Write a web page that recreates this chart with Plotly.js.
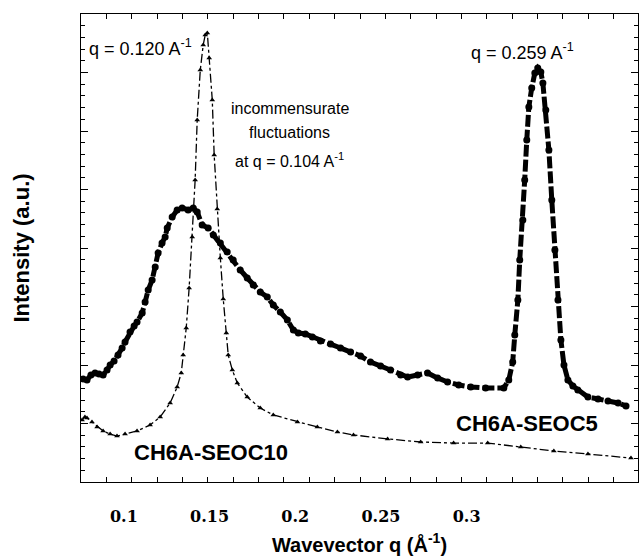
<!DOCTYPE html>
<html>
<head>
<meta charset="utf-8">
<script src="https://cdn.plot.ly/plotly-3.0.1.min.js"></script>
<style>html,body{margin:0;padding:0;background:#fff;}#chart{width:639px;height:559px;}</style>
</head>
<body>
<div id="chart"></div>
<script>
// CH6A-SEOC10 (thin dash-dot line with triangles)
const qSEOC10 = [0.0756,0.0773,0.0785,0.0814,0.0844,0.0879,0.0920,0.0960,0.1007,0.1077,0.1153,0.1212,0.1270,0.1311,0.1335,0.1346,0.1364,0.1381,0.1399,0.1416,0.1428,0.1446,0.1463,0.1475,0.1487,0.1498,0.1516,0.1527,0.1545,0.1563,0.1580,0.1598,0.1609,0.1633,0.1662,0.1720,0.1796,0.1872,0.2013,0.2129,0.2246,0.2340,0.2539,0.2732,0.2924,0.3123,0.3316,0.3509,0.3708,0.3959];
const iSEOC10 = [5.30,5.56,5.47,5.13,4.70,4.36,4.10,3.93,4.10,4.36,4.87,5.56,6.75,8.12,9.32,10.85,13.16,16.58,20.94,25.81,30.94,35.21,37.35,38.21,38.38,36.24,32.65,27.95,23.33,19.15,15.64,12.74,10.85,9.57,8.46,7.26,6.32,5.73,5.13,4.70,4.27,4.02,3.68,3.42,3.33,3.33,2.99,2.65,2.39,2.05];

// CH6A-SEOC5 (thick dotted line)
const qSEOC5 = [0.0762,0.0785,0.0808,0.0832,0.0855,0.0879,0.0902,0.0920,0.0943,0.0966,0.0990,0.1007,0.1036,0.1060,0.1077,0.1107,0.1124,0.1142,0.1165,0.1183,0.1200,0.1223,0.1241,0.1253,0.1282,0.1311,0.1340,0.1375,0.1405,0.1428,0.1457,0.1492,0.1522,0.1563,0.1603,0.1638,0.1679,0.1720,0.1755,0.1796,0.1837,0.1872,0.1913,0.1954,0.1989,0.2018,0.2059,0.2100,0.2147,0.2206,0.2264,0.2323,0.2381,0.2439,0.2498,0.2556,0.2615,0.2656,0.2714,0.2772,0.2831,0.2889,0.2954,0.3024,0.3111,0.3217,0.3246,0.3269,0.3281,0.3299,0.3310,0.3328,0.3339,0.3351,0.3363,0.3380,0.3398,0.3415,0.3433,0.3445,0.3462,0.3480,0.3497,0.3515,0.3533,0.3550,0.3568,0.3591,0.3620,0.3649,0.3708,0.3767,0.3825,0.3884,0.3930];
const iSEOC5 = [8.80,8.72,9.15,9.32,9.23,9.15,9.57,10.00,10.34,10.85,11.45,11.97,12.82,13.33,13.68,14.44,15.38,16.41,17.26,18.38,19.57,20.43,20.94,21.71,22.65,23.25,23.42,23.25,23.42,23.08,21.97,21.71,21.11,20.43,19.66,18.97,18.12,17.44,16.84,16.24,15.81,15.13,14.53,13.85,12.99,12.74,12.65,12.39,12.05,11.79,11.45,11.11,10.77,10.26,9.91,9.57,9.15,8.97,9.15,9.32,8.89,8.55,8.29,8.12,8.03,8.03,8.72,10.26,12.56,15.56,18.97,22.39,25.81,29.23,32.05,33.68,34.96,35.38,35.04,34.10,31.79,28.38,24.10,19.83,15.56,12.14,10.00,8.72,8.21,7.86,7.26,7.09,6.92,6.75,6.50];

const xTickVals = [0.1, 0.15, 0.2, 0.25, 0.3];
const xTickText = ['0.1', '0.15', '0.2', '0.25', '0.3'];

const traces = [
  {x: qSEOC10, y: iSEOC10, type: 'scatter', mode: 'lines+markers', name: 'CH6A-SEOC10',
   line: {color: '#000', width: 1.3, dash: 'dashdot'},
   marker: {symbol: 'triangle-up', size: 5, color: '#000'}},
  {x: qSEOC5, y: iSEOC5, type: 'scatter', mode: 'lines+markers', name: 'CH6A-SEOC5',
   line: {color: '#000', width: 5, dash: '12px,3px'},
   marker: {symbol: 'circle', size: 7, color: '#000'}}
];

const sans = 'Liberation Sans, Arial, sans-serif';
const txt = {family: sans, size: 16, color: '#000'};
const qtxt = {family: sans, size: 18, color: '#000'};
const bold = {family: sans, size: 22, color: '#000', weight: 'bold'};

const layout = {
  width: 639, height: 559,
  margin: {l: 81, r: 1, t: 14, b: 77},
  paper_bgcolor: '#fff', plot_bgcolor: '#fff',
  showlegend: false,
  xaxis: {
    range: [0.075, 0.4], tickmode: 'array', tickvals: xTickVals, ticktext: xTickText,
    ticks: 'inside', ticklen: 0, showgrid: false, zeroline: false,
    showline: true, linecolor: '#000', linewidth: 1, mirror: 'ticks',
    minor: {tick0: 0.075, dtick: 0.0148, ticks: 'inside', ticklen: 5, tickcolor: '#000', showgrid: false},
    tickfont: {family: 'DejaVu Serif, serif', size: 16, color: '#000', weight: 'bold'},
    ticklabelstandoff: 20,
    title: {text: 'Wavevector q (Å<sup>-1</sup>)', font: {family: sans, size: 20, color: '#000', weight: 'bold'}, standoff: 12}
  },
  yaxis: {
    range: [0, 40], dtick: 5, tick0: 0, showticklabels: false,
    ticks: 'inside', ticklen: 7, tickcolor: '#000', showgrid: false, zeroline: false,
    showline: true, linecolor: '#000', linewidth: 1, mirror: 'ticks',
    minor: {dtick: 1, ticks: 'inside', ticklen: 4, tickcolor: '#000', showgrid: false},
    title: {text: 'Intensity (a.u.)', font: {family: sans, size: 22, color: '#000', weight: 'bold'}, standoff: 44}
  },
  annotations: [
    {xref: 'paper', yref: 'paper', x: 0.0108, y: 0.929, xanchor: 'left', yanchor: 'middle', showarrow: false, text: 'q = 0.120 A<sup>-1</sup>', font: qtxt},
    {xref: 'paper', yref: 'paper', x: 0.375, y: 0.799, xanchor: 'center', yanchor: 'middle', showarrow: false, text: 'incommensurate', font: txt},
    {xref: 'paper', yref: 'paper', x: 0.375, y: 0.746, xanchor: 'center', yanchor: 'middle', showarrow: false, text: 'fluctuations', font: txt},
    {xref: 'paper', yref: 'paper', x: 0.375, y: 0.688, xanchor: 'center', yanchor: 'middle', showarrow: false, text: 'at q = 0.104 A<sup>-1</sup>', font: txt},
    {xref: 'paper', yref: 'paper', x: 0.793, y: 0.919, xanchor: 'center', yanchor: 'middle', showarrow: false, text: 'q = 0.259 A<sup>-1</sup>', font: qtxt},
    {xref: 'paper', yref: 'paper', x: 0.233, y: 0.064, xanchor: 'center', yanchor: 'middle', showarrow: false, text: 'CH6A-SEOC10', font: bold},
    {xref: 'paper', yref: 'paper', x: 0.801, y: 0.126, xanchor: 'center', yanchor: 'middle', showarrow: false, text: 'CH6A-SEOC5', font: bold}
  ]
};

Plotly.newPlot('chart', traces, layout, {displayModeBar: false, staticPlot: true});
</script>
</body>
</html>
